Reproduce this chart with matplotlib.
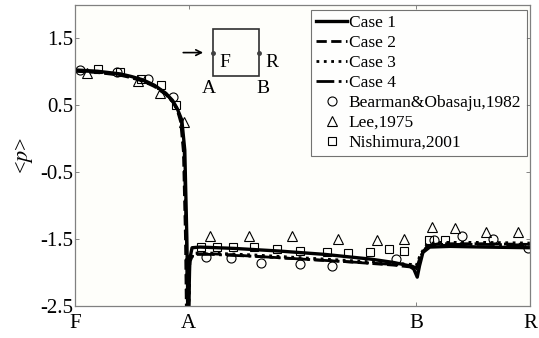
import matplotlib
matplotlib.use("Agg")
import matplotlib.pyplot as plt
from matplotlib.patches import Rectangle

plt.rcParams['font.family'] = ['Liberation Serif', 'DejaVu Serif']
plt.rcParams['mathtext.fontset'] = 'stix'

# surface positions: F=0, A=0.5, B=1.5, R=2
tick_pos = [0, 0.5, 1.5, 2.0]
tick_names = ['F', 'A', 'B', 'R']

# simulations (front face, then side + rear)
case1_front_x = [0, 0.05, 0.1, 0.15, 0.2, 0.25, 0.3, 0.35, 0.4, 0.43, 0.45, 0.47, 0.483, 0.492, 0.497]
case1_front_y = [1.03, 1.02, 1.01, 0.99, 0.97, 0.93, 0.88, 0.80, 0.68, 0.57, 0.45, 0.28, -0.17, -1.47, -2.6]
case1_side_x = [0.5, 0.505, 0.515, 0.55, 0.7, 0.9, 1.1, 1.3, 1.4, 1.47, 1.49, 1.505, 1.515, 1.53, 1.56, 1.65, 1.8, 2.0]
case1_side_y = [-2.6, -1.8, -1.63, -1.62, -1.64, -1.68, -1.73, -1.8, -1.85, -1.9, -1.95, -2.07, -1.9, -1.7, -1.62, -1.61, -1.62, -1.63]

case2_front_x = [0, 0.05, 0.1, 0.15, 0.2, 0.25, 0.3, 0.35, 0.4, 0.43, 0.45, 0.465, 0.477, 0.486, 0.49]
case2_front_y = [1.01, 1.0, 0.99, 0.97, 0.95, 0.91, 0.86, 0.78, 0.66, 0.55, 0.43, 0.25, -0.2, -1.5, -2.6]
case2_side_x = [0.5, 0.505, 0.52, 0.6, 0.8, 1.0, 1.2, 1.4, 1.48, 1.5, 1.52, 1.55, 1.6, 1.8, 2.0]
case2_side_y = [-2.6, -1.85, -1.72, -1.72, -1.76, -1.8, -1.84, -1.89, -1.92, -1.95, -1.75, -1.6, -1.57, -1.57, -1.58]

case3_front_x = [0, 0.05, 0.1, 0.15, 0.2, 0.25, 0.3, 0.35, 0.4, 0.43, 0.45, 0.468, 0.48, 0.49, 0.495]
case3_front_y = [1.02, 1.01, 1.0, 0.98, 0.96, 0.92, 0.87, 0.79, 0.67, 0.56, 0.44, 0.27, -0.18, -1.5, -2.6]
case3_side_x = [0.5, 0.505, 0.52, 0.6, 0.8, 1.0, 1.2, 1.4, 1.48, 1.5, 1.52, 1.55, 1.6, 1.8, 2.0]
case3_side_y = [-2.6, -1.85, -1.71, -1.71, -1.74, -1.78, -1.82, -1.86, -1.88, -1.9, -1.72, -1.57, -1.55, -1.55, -1.56]

case4_front_x = [0, 0.05, 0.1, 0.15, 0.2, 0.25, 0.3, 0.35, 0.4, 0.43, 0.45, 0.468, 0.48, 0.49, 0.495]
case4_front_y = [1.02, 1.01, 1.0, 0.98, 0.96, 0.92, 0.87, 0.79, 0.67, 0.56, 0.44, 0.27, -0.18, -1.5, -2.6]
case4_side_x = [0.5, 0.505, 0.52, 0.6, 0.8, 1.0, 1.2, 1.4, 1.48, 1.5, 1.52, 1.55, 1.6, 1.8, 2.0]
case4_side_y = [-2.6, -1.85, -1.73, -1.73, -1.76, -1.8, -1.84, -1.88, -1.9, -1.93, -1.75, -1.6, -1.58, -1.58, -1.59]

# experiments
bearman_x = [0.022, 0.185, 0.32, 0.43, 0.576, 0.686, 0.82, 0.99, 1.13, 1.41, 1.58, 1.70, 1.84, 1.99]
bearman_y = [1.03, 1.0, 0.90, 0.63, -1.77, -1.78, -1.86, -1.87, -1.90, -1.80, -1.51, -1.46, -1.50, -1.63]
lee_x = [0.053, 0.277, 0.374, 0.48, 0.593, 0.765, 0.956, 1.156, 1.33, 1.446, 1.57, 1.67, 1.807, 1.947]
lee_y = [0.99, 0.87, 0.68, 0.25, -1.455, -1.455, -1.455, -1.5, -1.51, -1.5, -1.32, -1.34, -1.40, -1.40]
nishi_x = [0.10, 0.20, 0.29, 0.378, 0.444, 0.553, 0.624, 0.695, 0.787, 0.89, 0.99, 1.108, 1.2, 1.297, 1.38, 1.446, 1.556, 1.626]
nishi_y = [1.05, 1.0, 0.90, 0.80, 0.50, -1.62, -1.62, -1.62, -1.62, -1.65, -1.68, -1.69, -1.71, -1.69, -1.65, -1.68, -1.51, -1.51]

fig = plt.figure(figsize=(5.39, 3.38), dpi=100)
ax = fig.add_axes([0.139, 0.095, 0.844, 0.89])
ax.set_facecolor('#fefefa')

styles = [('-', 2.4, 'Case 1', case1_front_x, case1_front_y, case1_side_x, case1_side_y),
          ('--', 2.0, 'Case 2', case2_front_x, case2_front_y, case2_side_x, case2_side_y),
          (':', 2.0, 'Case 3', case3_front_x, case3_front_y, case3_side_x, case3_side_y),
          ('-.', 2.0, 'Case 4', case4_front_x, case4_front_y, case4_side_x, case4_side_y)]
for ls, lw, lab, fx, fy, sx, sy in styles:
    ax.plot(fx + sx, fy + sy, ls, color='k', lw=lw, label=lab)

ax.plot(bearman_x, bearman_y, 'o', mfc='none', mec='k', ms=6.5, mew=0.8, label='Bearman&Obasaju,1982')
ax.plot(lee_x, lee_y, '^', mfc='none', mec='k', ms=7, mew=0.8, label='Lee,1975')
ax.plot(nishi_x, nishi_y, 's', mfc='none', mec='k', ms=6, mew=0.8, label='Nishimura,2001')

ax.set_xlim(0, 2)
ax.set_ylim(-2.5, 2.0)
ax.set_xticks(tick_pos)
ax.set_xticklabels(tick_names)
ax.set_yticks([1.5, 0.5, -0.5, -1.5, -2.5])
ax.set_yticklabels(['1.5', '0.5', '-0.5', '-1.5', '-2.5'])
ax.tick_params(direction='in', top=True, right=True, labelsize=15, length=3, width=0.6,
               color='#707070')
ax.tick_params(axis='x', pad=6)
ax.tick_params(axis='y', pad=1)
for s in ax.spines.values():
    s.set_color('#808080')
    s.set_linewidth(0.9)
ax.set_ylabel('<$p$>', fontsize=16, labelpad=4)

# schematic of the square cylinder
ax.add_patch(Rectangle((0.303, 0.764), 0.101, 0.156, transform=ax.transAxes,
                       fill=False, ec='#303030', lw=1.2))
ax.plot([0.303, 0.404], [0.842, 0.842], 'o', color='#404040', ms=2.5, transform=ax.transAxes)
ax.annotate('', xy=(0.288, 0.842), xytext=(0.232, 0.842), xycoords='axes fraction',
            arrowprops=dict(arrowstyle='->', color='k', lw=1.2))
ax.text(0.318, 0.81, 'F', transform=ax.transAxes, fontsize=14, va='center')
ax.text(0.418, 0.81, 'R', transform=ax.transAxes, fontsize=14, va='center')
ax.text(0.295, 0.722, 'A', transform=ax.transAxes, fontsize=14, va='center', ha='center')
ax.text(0.413, 0.722, 'B', transform=ax.transAxes, fontsize=14, va='center', ha='center')

leg = ax.legend(loc='upper right', bbox_to_anchor=(0.993, 0.985), borderaxespad=0,
                fontsize=12.5, frameon=True, fancybox=False, edgecolor='#505050',
                handlelength=1.8, handletextpad=0.1, labelspacing=0.22, borderpad=0.3)
leg.get_frame().set_linewidth(0.8)

fig.savefig('out.png', dpi=100)
